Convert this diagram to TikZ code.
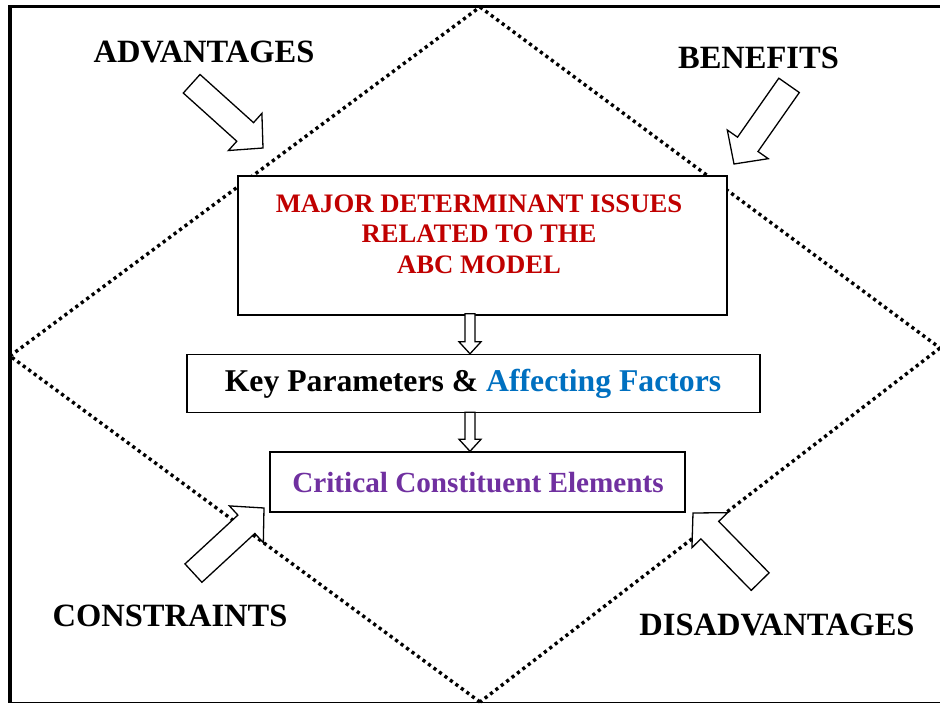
\documentclass[tikz,border=0pt]{standalone}
\usepackage{fontspec}
\setmainfont{Liberation Serif}
\definecolor{darkred}{HTML}{C00000}
\definecolor{affblue}{HTML}{0070C0}
\definecolor{critpurple}{HTML}{7030A0}
\newcommand\blockarrow[6]{% tip, angle, length, shaft half-width, head half-width, head length
  \begin{scope}[shift={(#1)},rotate=#2]
    \draw[blockarr] (0,0) -- (-#6,#5) -- (-#6,#4) -- (-#3,#4) -- (-#3,-#4) -- (-#6,-#4) -- (-#6,-#5) -- cycle;
  \end{scope}}
\begin{document}
\begin{tikzpicture}[x=1pt,y=-1pt,
  box/.style={draw=black, line width=1.4pt, fill=white, rectangle, inner sep=0pt},
  blockarr/.style={draw=black, line width=1.3pt, fill=white, line join=miter},
  sidelabel/.style={font=\bfseries\fontsize{32.5}{36}\selectfont, inner sep=0pt, anchor=base},
  diam/.style={line width=3.4pt, dash pattern=on 3.2pt off 3.6pt}
  ]
\useasboundingbox (0,0) rectangle (940,704);
% frame
\draw[line width=3.5pt] (940,6.5) -- (10,6.5) -- (10,703);
\draw[line width=1.5pt] (10,702.5) -- (940,702.5);
% dotted diamond
\coordinate (dT) at (480,7);
\coordinate (dR) at (940,348);
\coordinate (dB) at (480,702);
\coordinate (dL) at (10,356);
\draw[diam] (dT) -- (dR);
\draw[diam] (dR) -- (dB);
\draw[diam] (dB) -- (dL);
\draw[diam] (dL) -- (dT);
% boxes
\node[box, minimum width=489pt, minimum height=139pt] (b1) at (482.5,245.5) {};
\node[box, minimum width=573pt, minimum height=58pt] (b2) at (473.5,383.5) {};
\node[box, minimum width=415pt, minimum height=60pt] (b3) at (477.5,482) {};
% box texts
\node[font=\bfseries\fontsize{26.7}{30.5}\selectfont, text=darkred, align=center, inner sep=0pt] (t1) at (479,234)
  {MAJOR DETERMINANT ISSUES\\RELATED TO THE\\ABC MODEL};
\node[font=\bfseries\fontsize{31.7}{36}\selectfont, inner sep=0pt, anchor=base] (t2) at (473,391)
  {Key Parameters \& \textcolor{affblue}{Affecting Factors}};
\node[font=\bfseries\fontsize{29.2}{34}\selectfont, text=critpurple, inner sep=0pt, anchor=base] (t3) at (478,492)
  {Critical Constituent Elements};
% small arrows between boxes
\coordinate (ax) at (470,0);
\blockarrow{ax |- b2.north}{-90}{40}{5}{11}{12}
\blockarrow{ax |- b3.north}{-90}{39}{5}{11}{12}
% big block arrows
\coordinate (tipA) at (263,148);
\coordinate (tipB) at (734,164);
\coordinate (tipC) at (264,508);
\coordinate (tipD) at (693,513);
\blockarrow{tipA}{-42}{96}{12.5}{25}{24}
\blockarrow{tipB}{-125}{96}{12.5}{25}{24}
\blockarrow{tipC}{42.7}{96}{12.5}{25}{24}
\blockarrow{tipD}{134.4}{96}{12.5}{25}{24}
% side labels
\node[sidelabel] (lA) at (204,62) {ADVANTAGES};
\node[sidelabel] (lB) at (758.5,68) {BENEFITS};
\node[sidelabel] (lC) at (170,626) {CONSTRAINTS};
\node[sidelabel] (lD) at (777,635) {DISADVANTAGES};
\end{tikzpicture}
\end{document}
